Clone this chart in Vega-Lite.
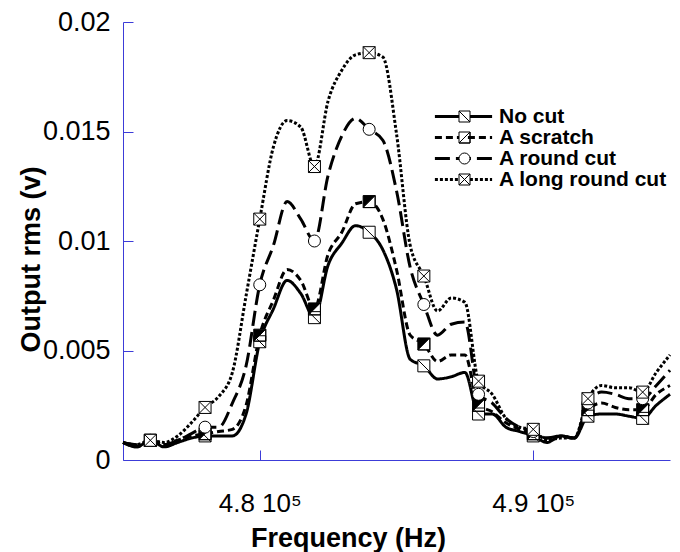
{
  "$schema": "https://vega.github.io/schema/vega-lite/v6.json",
  "width": 547,
  "height": 438,
  "autosize": {"type": "none"},
  "padding": {"left": 123, "top": 22, "right": 10, "bottom": 92},
  "background": "white",
  "config": {"view": {"stroke": null}, "font": "Liberation Sans"},
  "datasets": {
    "d": [
      {"f":475000,"s":"No cut","v":0.0008},{"f":475500,"s":"No cut","v":0.0006},{"f":476000,"s":"No cut","v":0.0009},{"f":476500,"s":"No cut","v":0.0006},{"f":477000,"s":"No cut","v":0.0008},{"f":477500,"s":"No cut","v":0.0010},{"f":478000,"s":"No cut","v":0.0011},{"f":478500,"s":"No cut","v":0.0011},{"f":479000,"s":"No cut","v":0.0011},{"f":479500,"s":"No cut","v":0.0021},{"f":480000,"s":"No cut","v":0.0054},{"f":480500,"s":"No cut","v":0.0069},{"f":481000,"s":"No cut","v":0.0082},{"f":481500,"s":"No cut","v":0.0076},{"f":482000,"s":"No cut","v":0.0065},{"f":482500,"s":"No cut","v":0.0089},{"f":483000,"s":"No cut","v":0.0099},{"f":483500,"s":"No cut","v":0.0107},{"f":484000,"s":"No cut","v":0.0104},{"f":484500,"s":"No cut","v":0.0096},{"f":485000,"s":"No cut","v":0.0078},{"f":485500,"s":"No cut","v":0.0046},{"f":486000,"s":"No cut","v":0.0043},{"f":486500,"s":"No cut","v":0.0037},{"f":487000,"s":"No cut","v":0.0038},{"f":487500,"s":"No cut","v":0.0040},{"f":488000,"s":"No cut","v":0.0021},{"f":488500,"s":"No cut","v":0.0021},{"f":489000,"s":"No cut","v":0.0015},{"f":489500,"s":"No cut","v":0.0013},{"f":490000,"s":"No cut","v":0.0011},{"f":490500,"s":"No cut","v":0.0008},{"f":491000,"s":"No cut","v":0.0011},{"f":491500,"s":"No cut","v":0.0010},{"f":492000,"s":"No cut","v":0.0020},{"f":492500,"s":"No cut","v":0.0021},{"f":493000,"s":"No cut","v":0.0021},{"f":493500,"s":"No cut","v":0.0020},{"f":494000,"s":"No cut","v":0.0019},{"f":494500,"s":"No cut","v":0.0025},{"f":495000,"s":"No cut","v":0.0030},
      {"f":475000,"s":"A scratch","v":0.0008},{"f":475500,"s":"A scratch","v":0.0006},{"f":476000,"s":"A scratch","v":0.0009},{"f":476500,"s":"A scratch","v":0.0007},{"f":477000,"s":"A scratch","v":0.0009},{"f":477500,"s":"A scratch","v":0.0011},{"f":478000,"s":"A scratch","v":0.0012},{"f":478500,"s":"A scratch","v":0.0013},{"f":479000,"s":"A scratch","v":0.0014},{"f":479500,"s":"A scratch","v":0.0025},{"f":480000,"s":"A scratch","v":0.0057},{"f":480500,"s":"A scratch","v":0.0073},{"f":481000,"s":"A scratch","v":0.0087},{"f":481500,"s":"A scratch","v":0.0082},{"f":482000,"s":"A scratch","v":0.0069},{"f":482500,"s":"A scratch","v":0.0094},{"f":483000,"s":"A scratch","v":0.0104},{"f":483500,"s":"A scratch","v":0.0117},{"f":484000,"s":"A scratch","v":0.0118},{"f":484500,"s":"A scratch","v":0.0110},{"f":485000,"s":"A scratch","v":0.0087},{"f":485500,"s":"A scratch","v":0.0057},{"f":486000,"s":"A scratch","v":0.0053},{"f":486500,"s":"A scratch","v":0.0045},{"f":487000,"s":"A scratch","v":0.0048},{"f":487500,"s":"A scratch","v":0.0048},{"f":488000,"s":"A scratch","v":0.0025},{"f":488500,"s":"A scratch","v":0.0022},{"f":489000,"s":"A scratch","v":0.0017},{"f":489500,"s":"A scratch","v":0.0014},{"f":490000,"s":"A scratch","v":0.0012},{"f":490500,"s":"A scratch","v":0.0010},{"f":491000,"s":"A scratch","v":0.0011},{"f":491500,"s":"A scratch","v":0.0010},{"f":492000,"s":"A scratch","v":0.0023},{"f":492500,"s":"A scratch","v":0.0026},{"f":493000,"s":"A scratch","v":0.0024},{"f":493500,"s":"A scratch","v":0.0023},{"f":494000,"s":"A scratch","v":0.0023},{"f":494500,"s":"A scratch","v":0.0030},{"f":495000,"s":"A scratch","v":0.0034},
      {"f":475000,"s":"A round cut","v":0.0008},{"f":475500,"s":"A round cut","v":0.0007},{"f":476000,"s":"A round cut","v":0.0009},{"f":476500,"s":"A round cut","v":0.0007},{"f":477000,"s":"A round cut","v":0.0009},{"f":477500,"s":"A round cut","v":0.0012},{"f":478000,"s":"A round cut","v":0.0015},{"f":478500,"s":"A round cut","v":0.0015},{"f":479000,"s":"A round cut","v":0.0026},{"f":479500,"s":"A round cut","v":0.0043},{"f":480000,"s":"A round cut","v":0.0080},{"f":480500,"s":"A round cut","v":0.0098},{"f":481000,"s":"A round cut","v":0.0118},{"f":481500,"s":"A round cut","v":0.0110},{"f":482000,"s":"A round cut","v":0.0100},{"f":482500,"s":"A round cut","v":0.0130},{"f":483000,"s":"A round cut","v":0.0148},{"f":483500,"s":"A round cut","v":0.0156},{"f":484000,"s":"A round cut","v":0.0151},{"f":484500,"s":"A round cut","v":0.0146},{"f":485000,"s":"A round cut","v":0.0123},{"f":485500,"s":"A round cut","v":0.0088},{"f":486000,"s":"A round cut","v":0.0071},{"f":486500,"s":"A round cut","v":0.0057},{"f":487000,"s":"A round cut","v":0.0062},{"f":487500,"s":"A round cut","v":0.0063},{"f":488000,"s":"A round cut","v":0.0030},{"f":488500,"s":"A round cut","v":0.0026},{"f":489000,"s":"A round cut","v":0.0019},{"f":489500,"s":"A round cut","v":0.0015},{"f":490000,"s":"A round cut","v":0.0013},{"f":490500,"s":"A round cut","v":0.0010},{"f":491000,"s":"A round cut","v":0.0011},{"f":491500,"s":"A round cut","v":0.0010},{"f":492000,"s":"A round cut","v":0.0026},{"f":492500,"s":"A round cut","v":0.0031},{"f":493000,"s":"A round cut","v":0.0030},{"f":493500,"s":"A round cut","v":0.0028},{"f":494000,"s":"A round cut","v":0.0028},{"f":494500,"s":"A round cut","v":0.0034},{"f":495000,"s":"A round cut","v":0.0041},
      {"f":475000,"s":"A long round cut","v":0.0008},{"f":475500,"s":"A long round cut","v":0.0007},{"f":476000,"s":"A long round cut","v":0.0009},{"f":476500,"s":"A long round cut","v":0.0008},{"f":477000,"s":"A long round cut","v":0.0011},{"f":477500,"s":"A long round cut","v":0.0017},{"f":478000,"s":"A long round cut","v":0.0024},{"f":478500,"s":"A long round cut","v":0.0029},{"f":479000,"s":"A long round cut","v":0.0040},{"f":479500,"s":"A long round cut","v":0.0075},{"f":480000,"s":"A long round cut","v":0.0110},{"f":480500,"s":"A long round cut","v":0.0143},{"f":481000,"s":"A long round cut","v":0.0155},{"f":481500,"s":"A long round cut","v":0.0152},{"f":482000,"s":"A long round cut","v":0.0134},{"f":482500,"s":"A long round cut","v":0.0164},{"f":483000,"s":"A long round cut","v":0.0178},{"f":483500,"s":"A long round cut","v":0.0185},{"f":484000,"s":"A long round cut","v":0.0186},{"f":484500,"s":"A long round cut","v":0.0184},{"f":485000,"s":"A long round cut","v":0.0149},{"f":485500,"s":"A long round cut","v":0.0098},{"f":486000,"s":"A long round cut","v":0.0084},{"f":486500,"s":"A long round cut","v":0.0068},{"f":487000,"s":"A long round cut","v":0.0074},{"f":487500,"s":"A long round cut","v":0.0072},{"f":488000,"s":"A long round cut","v":0.0036},{"f":488500,"s":"A long round cut","v":0.0030},{"f":489000,"s":"A long round cut","v":0.0019},{"f":489500,"s":"A long round cut","v":0.0015},{"f":490000,"s":"A long round cut","v":0.0014},{"f":490500,"s":"A long round cut","v":0.0009},{"f":491000,"s":"A long round cut","v":0.0010},{"f":491500,"s":"A long round cut","v":0.0010},{"f":492000,"s":"A long round cut","v":0.0028},{"f":492500,"s":"A long round cut","v":0.0034},{"f":493000,"s":"A long round cut","v":0.0033},{"f":493500,"s":"A long round cut","v":0.0033},{"f":494000,"s":"A long round cut","v":0.0031},{"f":494500,"s":"A long round cut","v":0.0040},{"f":495000,"s":"A long round cut","v":0.0048}
    ]
  },
  "data": {"name": "d"},
  "encoding": {
    "x": {
      "field": "f", "type": "quantitative",
      "scale": {"domain": [475000, 495000], "nice": false, "zero": false},
      "axis": {
        "values": [480000, 490000],
        "labelExpr": "format(datum.value / 100000, '.1f') + ' 10⁵'",
        "grid": false, "domainColor": "#3c3cd8", "tickColor": "#3c3cd8", "domainWidth": 1, "tickWidth": 1,
        "tickSize": -10, "labelPadding": 40, "labelFlush": false, "labelOverlap": false,
        "labelFont": "Liberation Sans", "labelFontSize": 26, "labelColor": "black",
        "title": "Frequency (Hz)", "titleFont": "Liberation Sans", "titleFontSize": 27, "titleFontWeight": "bold", "titleColor": "black",
        "titleX": 225, "titleY": 86, "titleAlign": "center", "titleBaseline": "alphabetic", "titleAnchor": null
      }
    },
    "y": {
      "field": "v", "type": "quantitative",
      "scale": {"domain": [0, 0.02], "nice": false, "zero": true},
      "axis": {
        "values": [0, 0.005, 0.01, 0.015, 0.02],
        "labelExpr": "'' + datum.value",
        "grid": false, "domainColor": "#3c3cd8", "tickColor": "#3c3cd8", "domainWidth": 1, "tickWidth": 1,
        "tickSize": -10, "labelPadding": 23, "labelFlush": false, "labelOverlap": false,
        "labelFont": "Liberation Sans", "labelFontSize": 27, "labelColor": "black",
        "title": "Output rms (v)", "titleFont": "Liberation Sans", "titleFontSize": 27, "titleFontWeight": "bold", "titleColor": "black",
        "titleAngle": -90, "titleX": -84, "titleY": 237, "titleAlign": "center", "titleBaseline": "alphabetic", "titleAnchor": null
      }
    }
  },
  "layer": [
    {
      "mark": {"type": "line", "strokeWidth": 3, "interpolate": "monotone"},
      "encoding": {
        "color": {
          "field": "s", "type": "nominal",
          "scale": {"domain": ["No cut", "A scratch", "A round cut", "A long round cut"], "range": ["black", "black", "black", "black"]},
          "legend": {"title": null, "orient": "none", "legendX": 330, "legendY": 84, "padding": 0, "zindex": 0,
            "symbolType": "M-5.2,0H5.2", "symbolSize": 121, "symbolStrokeWidth": 3, "symbolStrokeColor": "black",
            "labelFont": "Liberation Sans", "labelFontSize": 21, "labelFontWeight": "bold", "labelColor": "black",
            "labelOffset": 25, "rowPadding": -2, "labelLimit": 300}
        },
        "strokeDash": {
          "field": "s", "type": "nominal",
          "scale": {"domain": ["No cut", "A scratch", "A round cut", "A long round cut"], "range": [[1, 0], [7, 4], [15, 6], [3, 2]]},
          "legend": {"title": null, "orient": "none", "legendX": 330, "legendY": 84, "padding": 0, "zindex": 0,
            "symbolType": "M-5.2,0H5.2", "symbolSize": 121, "symbolStrokeWidth": 3, "symbolStrokeColor": "black",
            "labelFont": "Liberation Sans", "labelFontSize": 21, "labelFontWeight": "bold", "labelColor": "black",
            "labelOffset": 25, "rowPadding": -2, "labelLimit": 300}
        }
      }
    },
    {
      "transform": [{"filter": "datum.f % 2000 == 0 && datum.s == 'A scratch'"}],
      "mark": {"type": "square", "filled": true, "fill": "white", "size": 144, "opacity": 1, "strokeWidth": 0}
    },
    {
      "transform": [{"filter": "datum.f % 2000 == 0"}],
      "mark": {"type": "point", "filled": true, "size": 144, "opacity": 1, "stroke": "black", "strokeWidth": 1},
      "encoding": {
        "shape": {
          "field": "s", "type": "nominal", "sort": ["No cut", "A scratch", "A round cut", "A long round cut"],
          "scale": {"range": ["M-1,-1H1V1H-1ZM-1,-1L1,1", "M-1,-1H1V1H-1ZM1,-1L-1,1H1Z", "circle", "M-1,-1H1V1H-1ZM-1,-1L1,1M1,-1L-1,1"]},
          "legend": {"title": null, "orient": "none", "legendX": 331, "legendY": 84, "padding": 0, "zindex": 1,
            "symbolSize": 121, "symbolStrokeWidth": 1, "symbolStrokeColor": "black", "symbolFillColor": "white",
            "labelFont": "Liberation Sans", "labelFontSize": 21, "labelFontWeight": "bold", "labelOpacity": 0,
            "labelOffset": 25, "rowPadding": -2, "labelLimit": 300,
            "encode": {"symbols": {"update": {"fill": {"signal": "datum.value === 'A scratch' ? 'black' : 'white'"}, "stroke": {"value": "black"}, "strokeWidth": {"value": 1}}}}}
        },
        "fill": {
          "field": "s", "type": "nominal", "sort": ["No cut", "A scratch", "A round cut", "A long round cut"],
          "scale": {"range": ["white", "black", "white", "white"]},
          "legend": null
        }
      }
    }
  ]
}
